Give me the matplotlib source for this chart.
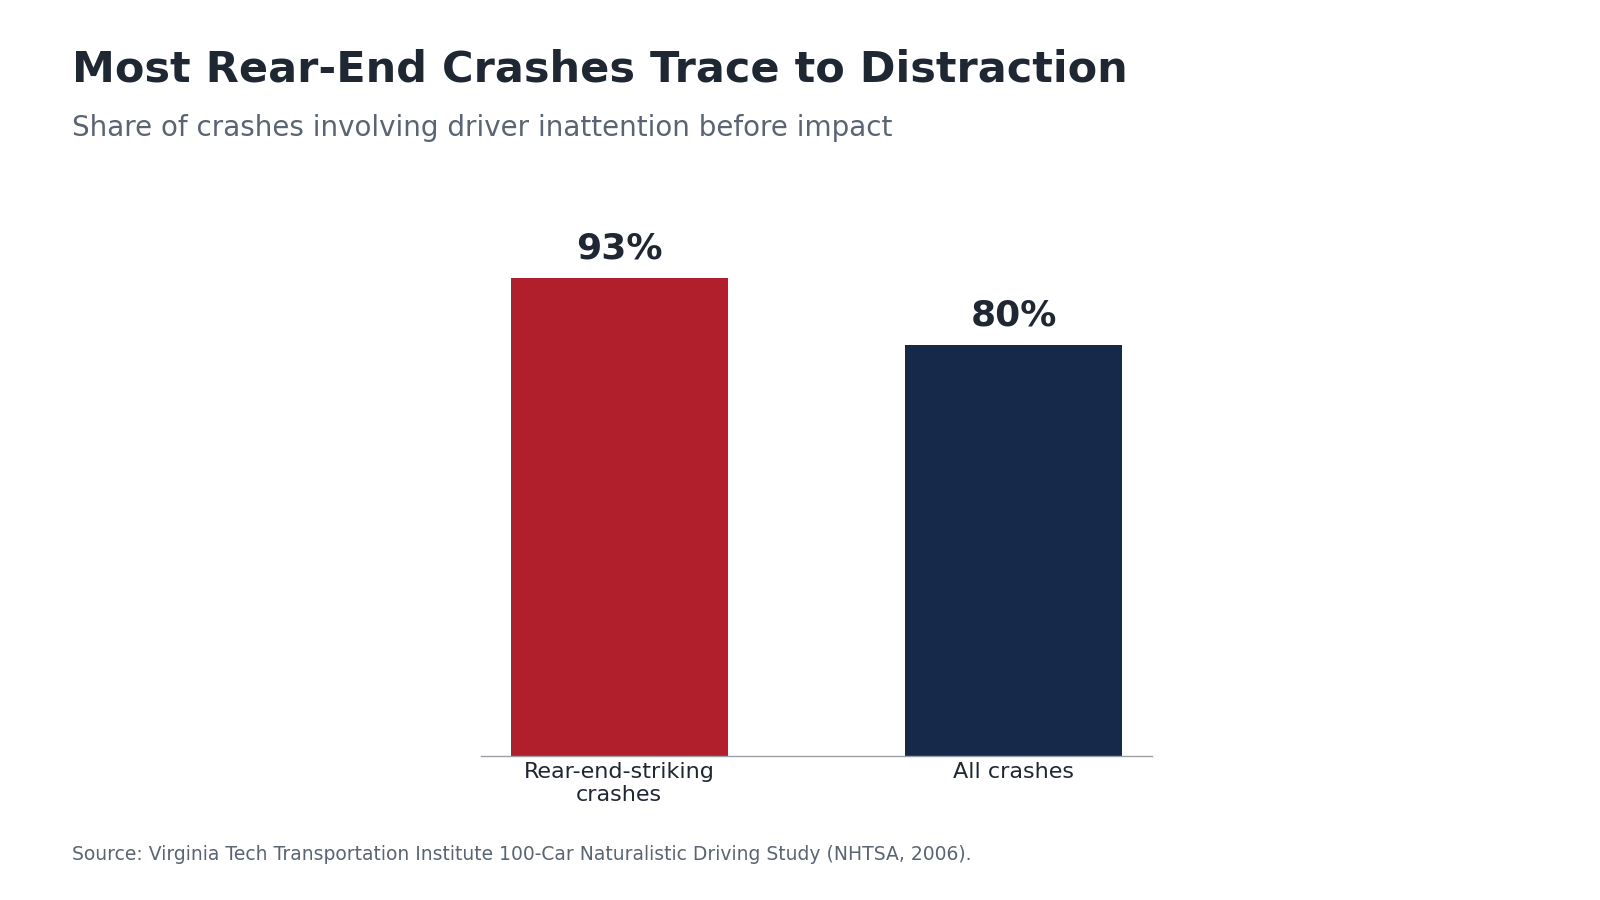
import numpy as np
import matplotlib.pyplot as plt

categories = ["Rear-end-striking\ncrashes", "All crashes"]
shares = [93, 80]
bar_colors = ["#b01f2b", "#17294b"]

title = "Most Rear-End Crashes Trace to Distraction"
subtitle = "Share of crashes involving driver inattention before impact"
source = "Source: Virginia Tech Transportation Institute 100-Car Naturalistic Driving Study (NHTSA, 2006)."

plt.rcParams['font.family'] = ['DejaVu Sans']

fig = plt.figure(figsize=(16, 9), dpi=100)
ax = fig.add_axes([0.3006, 0.16, 0.4194, 0.571])

x = np.arange(len(categories))
bars = ax.bar(x, shares, width=0.55, color=bar_colors)
ax.set_xlim(-0.35, 1.35)
ax.set_ylim(0, 100)

for b, v in zip(bars, shares):
    ax.annotate(f"{v}%", (b.get_x() + b.get_width() / 2, v),
                xytext=(0, 9), textcoords="offset points",
                ha="center", va="bottom", fontsize=26, fontweight="bold",
                color="#1f2733")

ax.set_xticks(x)
ax.set_xticklabels(categories, fontsize=16, color="#1f2733", linespacing=1.2)
ax.tick_params(axis="x", length=0, pad=4)
ax.set_yticks([])
for s in ["top", "right", "left"]:
    ax.spines[s].set_visible(False)
ax.spines["bottom"].set_color("#9aa0a6")
ax.spines["bottom"].set_linewidth(1)

fig.text(0.045, 1 - 82 / 900, title, fontsize=31, fontweight="bold",
         color="#1f2733", va="baseline", ha="left")
fig.text(0.045, 1 - 136 / 900, subtitle, fontsize=20,
         color="#5a6472", va="baseline", ha="left")
fig.text(0.045, 1 - 860 / 900, source, fontsize=13.5,
         color="#5a6472", va="baseline", ha="left")

fig.savefig("out.png", dpi=100)
